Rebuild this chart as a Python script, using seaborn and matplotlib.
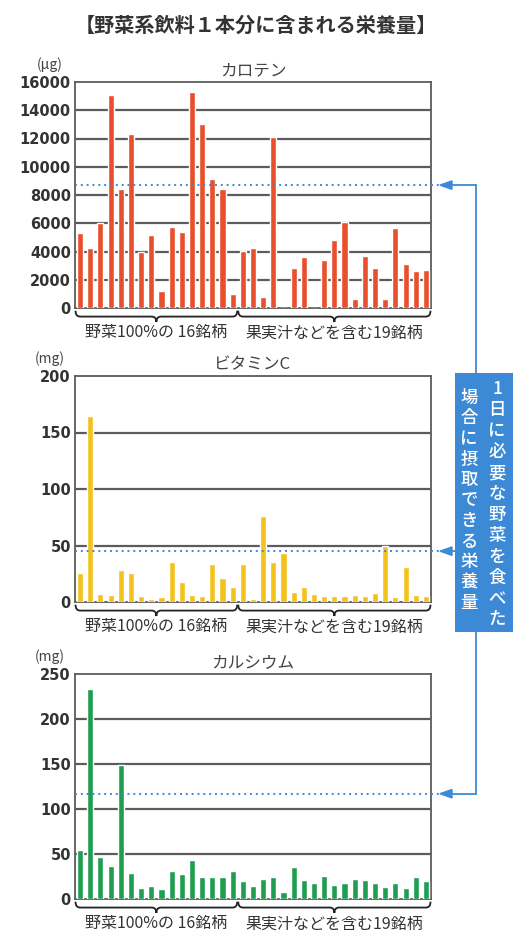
import numpy as np
import pandas as pd
import matplotlib
matplotlib.use("Agg")
import matplotlib.pyplot as plt
import seaborn as sns
from matplotlib.path import Path
from matplotlib.patches import PathPatch, Rectangle
from matplotlib.lines import Line2D
import matplotlib.transforms as mtransforms

sns.set_theme(style="white")
plt.rcParams['font.family'] = ['Noto Sans CJK JP', 'DejaVu Sans']

# ---------------- data ----------------
title = "【野菜系飲料１本分に含まれる栄養量】"
group_labels = ["野菜100%の 16銘柄", "果実汁などを含む19銘柄"]
group_sizes = [16, 19]

carotene = [5300, 4250, 6000, 15100, 8400, 12300, 4000, 5200, 1200, 5750, 5350,
            15300, 13000, 9150, 8450, 1000, 4050, 4250, 800, 12100, 0, 2850, 3600,
            0, 3400, 4800, 6100, 650, 3650, 2850, 650, 5650, 3100, 2650, 2700]
vitamin_c = [26, 165, 7, 6, 28, 26, 5, 3, 4, 35, 18, 6, 5, 34, 21, 13, 34, 3, 76,
             35, 43, 9, 13, 7, 5, 5, 5, 6, 5, 8, 50, 4, 31, 6, 5]
calcium = [54, 233, 47, 37, 149, 29, 12, 15, 11, 31, 28, 43, 25, 25, 24, 31, 20,
           14, 22, 25, 8, 36, 21, 18, 26, 16, 18, 22, 21, 18, 13, 18, 12, 25, 20]

panel_titles = ["カロテン", "ビタミンC", "カルシウム"]
units = ["(μg)", "(mg)", "(mg)"]
y_max = [16000, 200, 250]
y_step = [2000, 50, 50]
reference = [8700, 45, 117]
colors = ["#e84f2c", "#f4c21c", "#1f9e50"]
callout_right = "1日に必要な野菜を食べた"
callout_left = "場合に摂取できる栄養量"

# ---------------- layout ----------------
W, H = 516, 935
fig = plt.figure(figsize=(W / 100, H / 100), dpi=100)
fig.patch.set_facecolor("white")

def fx(px):
    return px / W

def fy(py):
    return 1 - py / H

axes_px = [(82, 308), (376, 602), (674, 899)]
left_px, right_px = 75, 431
blue = "#3c8ad6"
grid_c = "#5c5c5c"

series = [carotene, vitamin_c, calcium]
n = len(carotene)
ref_fig_y = []

for k in range(3):
    top, bot = axes_px[k]
    ax = fig.add_axes([fx(left_px), fy(bot), fx(right_px) - fx(left_px), (bot - top) / H])
    df = pd.DataFrame({"idx": np.arange(n), "val": series[k]})
    sns.barplot(data=df, x="idx", y="val", color=colors[k], width=0.6,
                saturation=1, ax=ax, zorder=3)
    ax.set_xlim(-0.5, n - 0.5)
    ax.set_ylim(0, y_max[k])
    ticks = np.arange(0, y_max[k] + 1, y_step[k])
    ax.set_yticks(ticks)
    ax.set_yticklabels([str(int(t)) for t in ticks], fontsize=10.5, color="#333333",
                       fontweight="bold", family=["DejaVu Sans"])
    ax.tick_params(axis="y", length=0, pad=3)
    ax.set_xticks([])
    ax.set_xlabel("")
    ax.set_ylabel("")
    for t in ticks[1:-1]:
        ax.axhline(t, color=grid_c, lw=1.6, zorder=1)
    for s in ax.spines.values():
        s.set_color(grid_c)
        s.set_linewidth(1.3)
        s.set_visible(True)
    ax.axhline(reference[k], color=blue, lw=1.4, ls=(0, (1, 2)), zorder=4)
    ax.set_title(panel_titles[k], fontsize=12, color="#444444", pad=5)
    ax.text(-0.07, 1.075, units[k], transform=ax.transAxes, ha="center", va="center",
            fontsize=10, color="#444444")

    # braces under groups
    trans = mtransforms.blended_transform_factory(ax.transData, ax.transAxes)
    start = -0.5
    for g, size in enumerate(group_sizes):
        x0, x1 = start + 0.05, start + size - 0.05
        xm = (x0 + x1) / 2
        d = 0.45
        yt, ym, yb = -0.012, -0.038, -0.062
        verts = [(x0, yt), (x0, ym), (x0 + d, ym),
                 (xm - d, ym), (xm, ym), (xm, yb),
                 (xm, ym), (xm + d, ym),
                 (x1 - d, ym), (x1, ym), (x1, yt)]
        codes = [Path.MOVETO, Path.CURVE3, Path.CURVE3,
                 Path.LINETO, Path.CURVE3, Path.CURVE3,
                 Path.CURVE3, Path.CURVE3,
                 Path.LINETO, Path.CURVE3, Path.CURVE3]
        ax.add_patch(PathPatch(Path(verts, codes), transform=trans, fill=False,
                               edgecolor="#222222", lw=1.3, clip_on=False))
        ax.text(xm, -0.11, group_labels[g], transform=trans, ha="center", va="center",
                fontsize=11.5, color="#333333")
        start += size

    ref_fig_y.append(fy(bot) + reference[k] / y_max[k] * (bot - top) / H)

# ---------------- title ----------------
fig.text(0.495, fy(25), title, ha="center", va="center", fontsize=14.5,
         fontweight="bold", color="#333333")

# ---------------- callout ----------------
vx = fx(476)
fig.add_artist(Line2D([vx, vx], [ref_fig_y[0], ref_fig_y[2]], color=blue, lw=1.3,
                      transform=fig.transFigure))
for y in ref_fig_y:
    fig.add_artist(Line2D([fx(right_px), fx(441)], [y, y], color=blue, lw=1.4,
                          ls=(0, (1, 2)), transform=fig.transFigure))
    fig.add_artist(Line2D([vx, fx(450)], [y, y], color=blue, lw=1.3,
                          transform=fig.transFigure))
    fig.patches.append(matplotlib.patches.FancyArrow(
        fx(452), y, fx(440) - fx(452), 0, width=0.0005, head_width=0.009,
        head_length=fx(12), length_includes_head=True, color=blue,
        transform=fig.transFigure))

box_top, box_bot = 373, 632
fig.add_artist(Rectangle((fx(455), fy(box_bot)), fx(513) - fx(455), (box_bot - box_top) / H,
                         facecolor=blue, edgecolor="none", transform=fig.transFigure))
for i, ch in enumerate(callout_right):
    fig.text(fx(497), fy(389 + i * 21), ch, ha="center", va="center", fontsize=12.5,
             color="white", fontweight="medium")
for i, ch in enumerate(callout_left):
    fig.text(fx(469), fy(398 + i * 20.5), ch, ha="center", va="center", fontsize=12.5,
             color="white", fontweight="medium")

fig.savefig("out.png", dpi=100, facecolor="white")
